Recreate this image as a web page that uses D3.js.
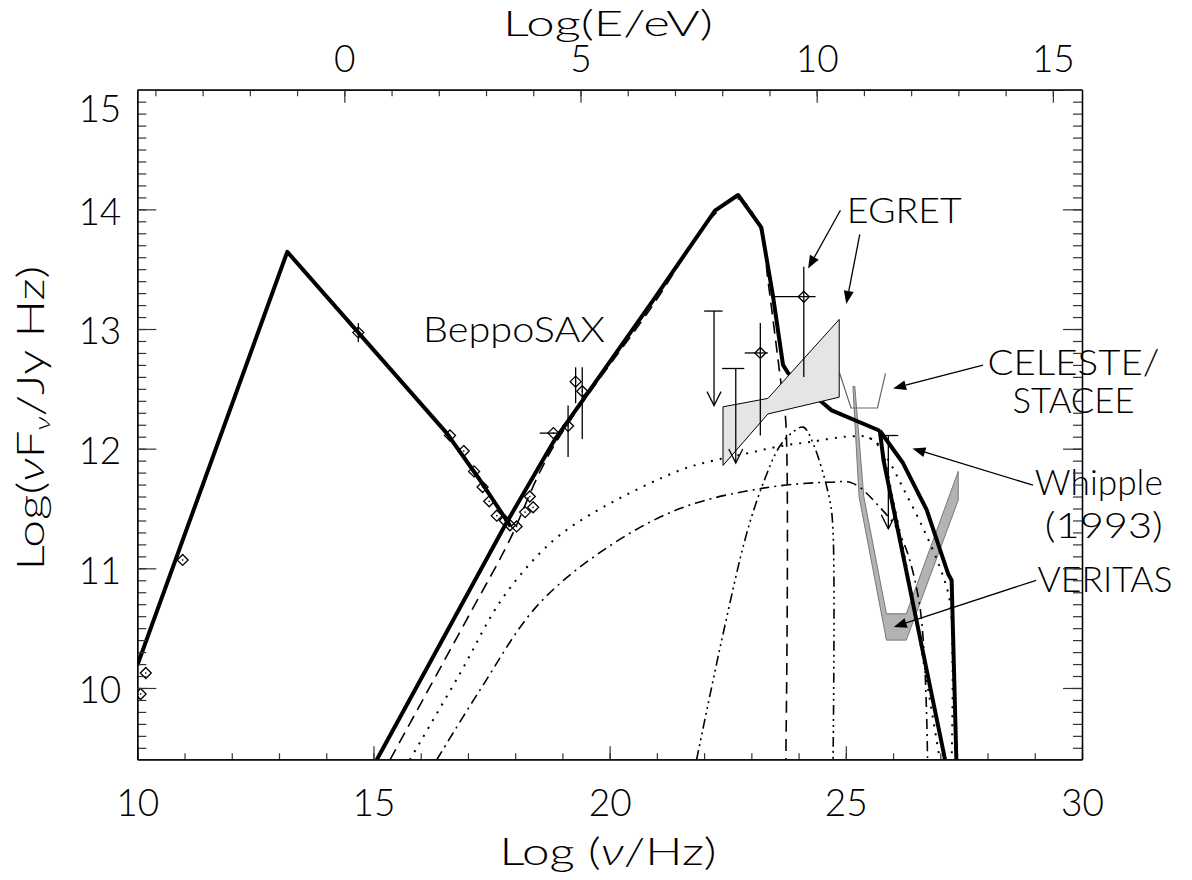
<!DOCTYPE html>
<html><head><meta charset="utf-8">
<script src="https://cdn.jsdelivr.net/npm/d3@7"></script>
<style>
body{margin:0;background:#fff}
svg{display:block}
text{font-family:Lato,"DejaVu Sans",sans-serif;font-weight:300;fill:#000}
.nu{font-style:italic}
</style></head><body>
<svg id="chart" width="1192" height="880"></svg>
<script>
// ---- axis ranges / ticks ----
const xDomain = [10, 30];
const yDomain = [9.404, 15];
const eShift = 14.383;                 // log E(eV) = log nu - 14.383
const xMajor = [10, 15, 20, 25, 30];
const yMajor = [10, 11, 12, 13, 14, 15];
const eMajor = [0, 5, 10, 15];

// ---- model curves [log nu, log nuFnu] ----
const synchCurve = [[10.0,10.19],[13.175,13.645],[14.68,12.97],[16.55,12.13],[17.25,11.74],[17.82,11.40],[17.90,11.35]];
const totalMain = [[15.07,9.40],[17.80,11.37],[18.83,12.07],[20.92,13.24],[22.23,13.99],[22.72,14.12],
  [23.21,13.85],[23.46,13.27],[23.67,12.70],[23.78,12.63],[24.49,12.39],[24.70,12.32],[25.72,12.15]];
const totalA = [[25.72,12.15],[25.80,11.90],[27.06,9.48],[27.10,9.40]];
const totalB = [[25.72,12.15],[26.21,11.88],[26.71,11.49],[27.17,10.95],[27.24,10.90],[27.34,9.40]];
const sscCurve = [[15.35,9.40],[17.04,10.62],[17.85,11.21],[18.77,11.99],[20.9,13.19],[22.2,13.95],[22.72,14.09],
  [23.2,13.83],[23.35,13.41],[23.62,12.57],[23.73,12.22],[23.73,9.40]];
const ecDotted = [[15.77,9.40],[16.83,10.12],[17.75,10.76],[18.80,11.23],[19.86,11.51],[21.49,11.82],[22.19,11.90],
  [22.90,11.96],[23.60,12.02],[24.31,12.06],[25.01,12.10],[25.50,12.09],[25.86,11.93],[26.20,11.68],[26.63,11.34],
  [26.99,11.01],[27.20,10.73],[27.26,10.17],[27.24,9.40]];
const ecDottedSteep = [[25.50,12.09],[25.72,12.02],[26.0,11.57],[26.42,10.73],[26.99,9.40]];
const ecDashDot = [[16.34,9.40],[17.25,9.98],[18.45,10.68],[19.86,11.15],[21.49,11.50],[23.25,11.67],[24.66,11.72],
  [25.15,11.71],[25.72,11.51],[26.14,11.29],[26.56,10.70],[26.73,9.40]];
const ecDash3Dot = [[21.84,9.40],[22.40,10.45],[22.90,11.29],[23.25,11.71],[23.60,12.02],[23.88,12.14],[24.10,12.18],
  [24.31,12.04],[24.66,11.57],[24.73,11.30],[24.73,9.40]];

// ---- measurements ----
// plain diamonds (radio / optical / X-ray)
const sedPoints = [[10.07,9.95],[10.18,10.125],[10.96,11.07],[14.68,12.97],[16.62,12.11],[16.91,11.98],[17.13,11.81],
  [17.31,11.68],[17.45,11.56],[17.61,11.44],[17.78,11.40],[17.89,11.36],[18.03,11.35],[18.21,11.47],[18.31,11.60],[18.38,11.51]];
// points with error bars: [x, y, xlo, xhi, ylo, yhi]
const errPoints = [[14.68,12.97,14.68,14.68,12.89,13.05],[18.81,12.13,18.52,19.0,12.13,12.13],[19.12,12.19,19.12,19.12,11.93,12.36],
  [19.28,12.56,19.28,19.28,12.38,12.68],[19.42,12.48,19.42,19.42,12.08,12.68],
  [23.19,12.80,22.86,23.35,12.11,13.05],[24.11,13.27,23.49,24.36,12.60,13.52]];
// upper limits: [x, top, capLo, capHi, arrowTip]
const upperLimits = [[22.21,13.15,22.0,22.39,12.36],[22.67,12.67,22.38,22.85,11.88],[25.90,12.11,25.79,26.11,11.33]];
// EGRET bow-tie
const egretBowtie = [[22.40,12.35],[23.35,12.42],[24.86,13.08],[24.86,12.43],[23.35,12.29],[22.40,11.86]];
// CELESTE / STACEE sensitivity
const celeste = [[24.87,12.63],[25.11,12.34],[25.67,12.34],[25.84,12.63]];
// VERITAS sensitivity band
const veritas = [[25.15,12.52],[25.28,11.60],[25.86,10.40],[26.28,10.40],[27.38,11.57],[27.38,11.81],
  [26.28,10.62],[25.86,10.62],[25.38,11.60],[25.19,12.52]];

// ---- annotations: label, anchor point, width; arrows [tail, tip] ----
const labels = [
  {t:"BeppoSAX", at:[16.05,12.89], anchor:"start", w:182},
  {t:"EGRET", at:[25.02,13.89], anchor:"start", w:115},
  {t:"CELESTE/", at:[29.82,12.615], anchor:"middle", w:172},
  {t:"STACEE", at:[29.82,12.30], anchor:"middle", w:122},
  {t:"Whipple", at:[31.71,11.61], anchor:"end", w:128},
  {t:"(1993)", at:[31.71,11.25], anchor:"end", w:118},
  {t:"VERITAS", at:[29.06,10.80], anchor:"start", w:135}
];
const arrows = [
  [[24.886,13.993],[24.20,13.505]],
  [[25.295,13.79],[25.01,13.21]],
  [[27.905,12.698],[26.0,12.503]],
  [[28.963,11.695],[26.41,12.002]],
  [[29.03,10.90],[26.015,10.51]]
];

// ---- layout ----
const svg = d3.select("#chart");
const L = 137.3, R = 1082, T = 89.7, B = 759.3;
const x = d3.scaleLinear().domain(xDomain).range([L, R]);
const y = d3.scaleLinear().domain(yDomain).range([B, T]);
const xE = d3.scaleLinear().domain([xDomain[0]-eShift, xDomain[1]-eShift]).range([L, R]);

svg.append("defs").append("clipPath").attr("id","plot")
  .append("rect").attr("x",L).attr("y",T).attr("width",R-L).attr("height",B-T);

const g = svg.append("g").attr("clip-path","url(#plot)");
const line = d3.line().x(d=>x(d[0])).y(d=>y(d[1]));
const smooth = d3.line().x(d=>x(d[0])).y(d=>y(d[1])).curve(d3.curveCatmullRom.alpha(0.5));

// VERITAS band and CELESTE/STACEE sensitivity under the models
g.append("path").datum(veritas).attr("d", d=>line(d)+"Z")
  .attr("fill","#b3b3b3").attr("stroke","#777").attr("stroke-width",1);
g.append("path").datum(celeste).attr("d", line)
  .attr("fill","none").attr("stroke","#666").attr("stroke-width",1.2);

// model components
const comp = [
  {d:ecDotted, dash:"2,7", w:2},
  {d:ecDottedSteep, dash:"2,7", w:2},
  {d:ecDashDot, dash:"10,5,2,5", w:1.6},
  {d:ecDash3Dot, dash:"10,4,2,4,2,4,2,4", w:1.6},
  {d:sscCurve, dash:"12,7", w:1.6}
];
comp.forEach(c => g.append("path").datum(c.d).attr("d", smooth)
  .attr("fill","none").attr("stroke","#000").attr("stroke-width",c.w)
  .attr("stroke-dasharray",c.dash));

[synchCurve, totalMain, totalA, totalB].forEach(d => g.append("path").datum(d).attr("d", line)
  .attr("fill","none").attr("stroke","#000").attr("stroke-width",4).attr("stroke-linejoin","round"));

// EGRET bow-tie drawn over the model
g.append("path").datum(egretBowtie).attr("d", d=>line(d)+"Z")
  .attr("fill","#e5e5e5").attr("stroke","#000").attr("stroke-width",1);

// error bars
const eb = g.append("g").attr("stroke","#000").attr("stroke-width",1.3);
errPoints.forEach(p => {
  if (p[2] !== p[3]) eb.append("line").attr("x1",x(p[2])).attr("x2",x(p[3])).attr("y1",y(p[1])).attr("y2",y(p[1]));
  if (p[4] !== p[5]) eb.append("line").attr("x1",x(p[0])).attr("x2",x(p[0])).attr("y1",y(p[4])).attr("y2",y(p[5]));
});
upperLimits.forEach(p => {
  eb.append("line").attr("x1",x(p[2])).attr("x2",x(p[3])).attr("y1",y(p[1])).attr("y2",y(p[1]));
  eb.append("line").attr("x1",x(p[0])).attr("x2",x(p[0])).attr("y1",y(p[1])).attr("y2",y(p[4]));
  const tx = x(p[0]), ty = y(p[4]);
  eb.append("path").attr("d",`M${tx-7},${ty-14}L${tx},${ty}L${tx+7},${ty-14}`).attr("fill","none");
});

// diamonds
const diamond = (px,py,r) => `M${px},${py-r}L${px+r},${py}L${px},${py+r}L${px-r},${py}Z`;
const allDiamonds = sedPoints.concat(errPoints.slice(1).map(p=>[p[0],p[1]]));
g.append("g").selectAll("path").data(allDiamonds).join("path")
  .attr("d", d=>diamond(x(d[0]),y(d[1]),5.5))
  .attr("fill","none").attr("stroke","#000").attr("stroke-width",1.3);
g.append("g").selectAll("rect").data(allDiamonds).join("rect")
  .attr("x", d=>x(d[0])-0.7).attr("y", d=>y(d[1])-0.7).attr("width",1.4).attr("height",1.4).attr("fill","#000");

// annotation labels and arrows
const ann = svg.append("g");
labels.forEach(l => ann.append("text").attr("x",x(l.at[0])).attr("y",y(l.at[1]))
  .attr("text-anchor",l.anchor).attr("font-size",36)
  .attr("textLength",l.w).attr("lengthAdjust","spacingAndGlyphs").text(l.t));
arrows.forEach(a => {
  const x1=x(a[0][0]), y1=y(a[0][1]), x2=x(a[1][0]), y2=y(a[1][1]);
  const ang = Math.atan2(y2-y1, x2-x1), len = 13, hw = 5;
  const bx = x2 - len*Math.cos(ang), by = y2 - len*Math.sin(ang);
  ann.append("line").attr("x1",x1).attr("y1",y1).attr("x2",bx).attr("y2",by)
    .attr("stroke","#000").attr("stroke-width",1.3);
  ann.append("path").attr("d",`M${x2},${y2}L${bx+hw*Math.sin(ang)},${by-hw*Math.cos(ang)}L${bx-hw*Math.sin(ang)},${by+hw*Math.cos(ang)}Z`)
    .attr("fill","#000");
});

// ---- axes ----
const ax = svg.append("g");
function styleAxis(sel){ sel.select(".domain").attr("stroke","#000").attr("stroke-width",1.3);
  sel.selectAll(".tick line").attr("stroke","#333").attr("stroke-width",1.2); }

ax.append("g").attr("transform",`translate(0,${B})`)
  .call(d3.axisBottom(x).tickValues(d3.range(10,31)).tickSize(-6).tickSizeOuter(0).tickFormat(""))
  .call(styleAxis);
ax.append("g").attr("transform",`translate(0,${B})`)
  .call(d3.axisBottom(x).tickValues(xMajor).tickSize(-13).tickSizeOuter(0).tickPadding(30).tickFormat(d3.format("d")))
  .call(styleAxis)
  .call(s=>s.selectAll("text").attr("font-size",37).attr("font-family","Lato").attr("fill","#000"));

ax.append("g").attr("transform",`translate(0,${T})`)
  .call(d3.axisTop(xE).tickValues(d3.range(-4,16)).tickSize(-6.5).tickSizeOuter(0).tickFormat(""))
  .call(styleAxis);
ax.append("g").attr("transform",`translate(0,${T})`)
  .call(d3.axisTop(xE).tickValues(eMajor).tickSize(-13).tickSizeOuter(0).tickPadding(18).tickFormat(d3.format("d")))
  .call(styleAxis)
  .call(s=>s.selectAll("text").attr("font-size",37).attr("fill","#444"));

const yMinor = d3.range(95,151).map(v=>v/10);
ax.append("g").attr("transform",`translate(${L},0)`)
  .call(d3.axisLeft(y).tickValues(yMinor).tickSize(-9).tickSizeOuter(0).tickFormat(""))
  .call(styleAxis);
ax.append("g").attr("transform",`translate(${L},0)`)
  .call(d3.axisLeft(y).tickValues(yMajor).tickSize(-19).tickSizeOuter(0).tickPadding(16).tickFormat(d3.format("d")))
  .call(styleAxis)
  .call(s=>s.selectAll("text").attr("font-size",37).attr("dy",d=>d===15?"0.85em":"0.40em"));
ax.append("g").attr("transform",`translate(${R},0)`)
  .call(d3.axisRight(y).tickValues(yMinor).tickSize(-9).tickSizeOuter(0).tickFormat(""))
  .call(styleAxis);
ax.append("g").attr("transform",`translate(${R},0)`)
  .call(d3.axisRight(y).tickValues(yMajor).tickSize(-19).tickSizeOuter(0).tickFormat(""))
  .call(styleAxis);

// axis titles
svg.append("text").attr("x",608).attr("y",865).attr("text-anchor","middle").attr("font-size",37)
  .attr("textLength",217).attr("lengthAdjust","spacingAndGlyphs")
  .html('Log (<tspan class="nu">ν</tspan>/Hz)');
svg.append("text").attr("x",608).attr("y",36).attr("text-anchor","middle").attr("font-size",36).attr("fill","#444")
  .attr("textLength",210).attr("lengthAdjust","spacingAndGlyphs")
  .text("Log(E/eV)");
svg.append("text").attr("transform","translate(44,418) rotate(-90)").attr("text-anchor","middle").attr("font-size",37)
  .attr("textLength",305).attr("lengthAdjust","spacingAndGlyphs")
  .html('Log(<tspan class="nu">ν</tspan>F<tspan class="nu" font-size="22" dy="6">ν</tspan><tspan dy="-6">/Jy Hz)</tspan>');
</script>
</body></html>
